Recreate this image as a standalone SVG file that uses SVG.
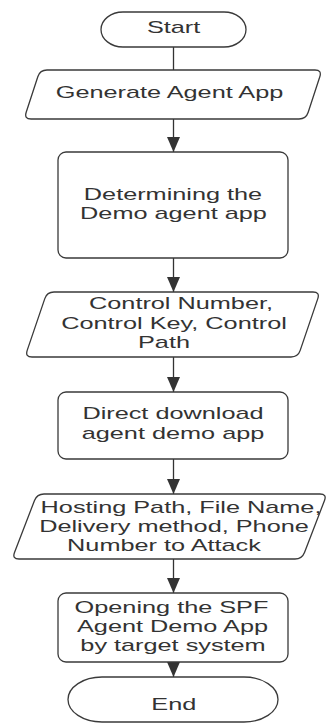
<svg xmlns="http://www.w3.org/2000/svg" width="328" height="724" viewBox="0 0 328 724">
<defs>
<style>
.s{fill:#fff;stroke:#3a3a3a;stroke-width:1.3}
.t{font-family:"Liberation Sans",Arial,sans-serif;font-size:16px;fill:#333;text-anchor:middle}
.c{stroke:#333;stroke-width:1.3;fill:none}
</style>
<marker id="ah" markerUnits="userSpaceOnUse" markerWidth="15" markerHeight="13" refX="15" refY="6.5" orient="auto">
<path d="M0,0 L15,6.5 L0,13 Z" fill="#333"/>
</marker>
</defs>
<rect width="328" height="724" fill="#fff"/>
<g id="connectors">
<line class="c" x1="173.5" y1="47" x2="173.5" y2="70"/>
<line class="c" x1="173.5" y1="119" x2="173.5" y2="152" marker-end="url(#ah)"/>
<line class="c" x1="173.5" y1="258" x2="173.5" y2="292" marker-end="url(#ah)"/>
<line class="c" x1="173.5" y1="357" x2="173.5" y2="392" marker-end="url(#ah)"/>
<line class="c" x1="173.5" y1="459" x2="173.5" y2="494" marker-end="url(#ah)"/>
<line class="c" x1="173.5" y1="559" x2="173.5" y2="593" marker-end="url(#ah)"/>
<line class="c" x1="173.5" y1="662" x2="173.5" y2="677" marker-end="url(#ah)"/>
</g>
<g id="start">
<rect class="s" x="101" y="12" width="145" height="35" rx="22" ry="17.5"/>
<text class="t" transform="matrix(1.58 0 0 1 173.6 0)" x="0" y="33.3">Start</text>
</g>
<g id="generate">
<path class="s" d="M47,70 L315,70 Q322,70 319.8,76.7 L308.2,112.3 Q306,119 299,119 L31,119 Q24,119 26.2,112.3 L37.8,76.7 Q40,70 47,70 Z"/>
<text class="t" transform="matrix(1.58 0 0 1 169.5 0)" x="0" y="98">Generate Agent App</text>
</g>
<g id="determining">
<rect class="s" x="58" y="152" width="230" height="106" rx="8"/>
<text class="t" transform="matrix(1.58 0 0 1 173 0)" x="0" y="200">Determining the</text>
<text class="t" transform="matrix(1.58 0 0 1 173.5 0)" x="0" y="219">Demo agent app</text>
</g>
<g id="control">
<path class="s" d="M54,292 L313,292 Q320,292 317.8,298.6 L300.2,350.4 Q298,357 291,357 L32,357 Q25,357 27.2,350.4 L44.8,298.6 Q47,292 54,292 Z"/>
<text class="t" transform="matrix(1.58 0 0 1 181 0)" x="0" y="309.3">Control Number,</text>
<text class="t" transform="matrix(1.58 0 0 1 174 0)" x="0" y="328.8">Control Key, Control</text>
<text class="t" transform="matrix(1.58 0 0 1 164 0)" x="0" y="348.3">Path</text>
</g>
<g id="direct">
<rect class="s" x="58" y="392" width="230" height="67" rx="8"/>
<text class="t" transform="matrix(1.58 0 0 1 173 0)" x="0" y="419.3">Direct download</text>
<text class="t" transform="matrix(1.58 0 0 1 173 0)" x="0" y="438.6">agent demo app</text>
</g>
<g id="hosting">
<path class="s" d="M44,494 L320,494 Q327,494 324.5,500.5 L304.5,552.5 Q302,559 295,559 L19,559 Q12,559 14.5,552.5 L34.5,500.5 Q37,494 44,494 Z"/>
<text class="t" transform="matrix(1.58 0 0 1 181 0)" x="0" y="513.3">Hosting Path, File Name,</text>
<text class="t" transform="matrix(1.58 0 0 1 174 0)" x="0" y="532.3">Delivery method, Phone</text>
<text class="t" transform="matrix(1.58 0 0 1 164 0)" x="0" y="551">Number to Attack</text>
</g>
<g id="opening">
<rect class="s" x="58" y="593" width="230" height="69" rx="8"/>
<text class="t" transform="matrix(1.58 0 0 1 171.5 0)" x="0" y="612.6">Opening the SPF</text>
<text class="t" transform="matrix(1.58 0 0 1 172.5 0)" x="0" y="631.8">Agent Demo App</text>
<text class="t" transform="matrix(1.58 0 0 1 173 0)" x="0" y="650.7">by target system</text>
</g>
<g id="end">
<rect class="s" x="68" y="677" width="210" height="45" rx="34" ry="22.5"/>
<text class="t" transform="matrix(1.58 0 0 1 173.8 0)" x="0" y="710">End</text>
</g>
</svg>
